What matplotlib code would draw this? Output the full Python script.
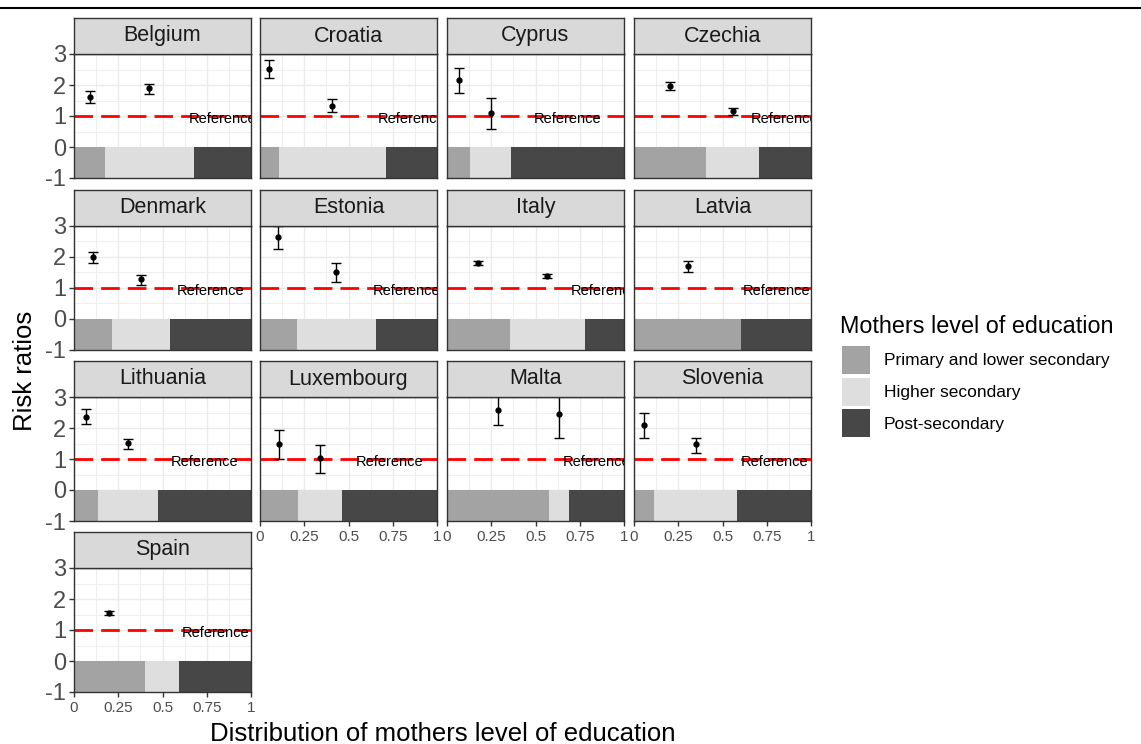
import numpy as np
import matplotlib
matplotlib.use("Agg")
import matplotlib.pyplot as plt
from matplotlib.lines import Line2D
from matplotlib.patches import Rectangle

plt.rcParams['font.family'] = ['Liberation Sans', 'DejaVu Sans']

# data
countries = ['Belgium', 'Croatia', 'Cyprus', 'Czechia',
             'Denmark', 'Estonia', 'Italy', 'Latvia',
             'Lithuania', 'Luxembourg', 'Malta', 'Slovenia',
             'Spain']
share_primary = [0.176, 0.107, 0.130, 0.407, 0.213, 0.208, 0.354, 0.607, 0.138, 0.216, 0.576, 0.113, 0.400]
share_higher = [0.500, 0.605, 0.234, 0.299, 0.332, 0.445, 0.427, 0.000, 0.338, 0.247, 0.115, 0.471, 0.196]
share_post = [0.324, 0.288, 0.636, 0.294, 0.455, 0.347, 0.219, 0.393, 0.524, 0.537, 0.309, 0.416, 0.404]

rr_primary = [1.60, 2.53, 2.16, 1.98, 1.99, 2.64, 1.80, 1.70, 2.36, 1.48, 2.59, 2.10, 1.56]
lo_primary = [1.41, 2.24, 1.75, 1.84, 1.78, 2.23, 1.74, 1.50, 2.13, 1.01, 2.10, 1.67, 1.50]
hi_primary = [1.82, 2.81, 2.54, 2.10, 2.14, 2.97, 1.85, 1.86, 2.60, 1.94, 3.15, 2.47, 1.62]

rr_higher = [1.91, 1.33, 1.09, 1.16, 1.26, 1.49, 1.36, np.nan, 1.52, 1.03, 2.45, 1.48, np.nan]
lo_higher = [1.71, 1.14, 0.58, 1.04, 1.09, 1.19, 1.30, np.nan, 1.32, 0.56, 1.67, 1.19, np.nan]
hi_higher = [2.03, 1.54, 1.58, 1.26, 1.39, 1.78, 1.42, np.nan, 1.64, 1.45, 3.20, 1.67, np.nan]

levels = ['Primary and lower secondary', 'Higher secondary', 'Post-secondary']
level_colors = ['#A3A3A3', '#DEDEDE', '#474747']

W, H = 1141, 744
fig = plt.figure(figsize=(W / 100, H / 100), dpi=100)

def px(x0, y0, w, h):
    return [x0 / W, 1 - (y0 + h) / H, w / W, h / H]

col_left = [74, 260, 447, 634]
row_top = [54, 225.5, 397, 568]
pw, ph, sh = 177, 124, 36
tick_col = '#4D4D4D'

for i, c in enumerate(countries):
    r, k = divmod(i, 4)
    ax = fig.add_axes(px(col_left[k], row_top[r], pw, ph))
    ax.set_xlim(0, 1)
    ax.set_ylim(-1, 3)
    ax.set_axisbelow(True)
    ax.set_xticks([0, 0.25, 0.5, 0.75, 1])
    ax.set_xticks([0.125, 0.375, 0.625, 0.875], minor=True)
    ax.set_yticks([-1, 0, 1, 2, 3])
    ax.set_yticks([-0.5, 0.5, 1.5, 2.5], minor=True)
    ax.grid(which='major', color='#EBEBEB', lw=1.0)
    ax.grid(which='minor', color='#EBEBEB', lw=0.6)
    for s in ax.spines.values():
        s.set_color('#333333')
        s.set_linewidth(1.0)

    # stacked distribution bar
    shares = [share_primary[i], share_higher[i], share_post[i]]
    left = np.cumsum([0] + shares[:-1])
    ax.barh(-0.5, shares, left=left, height=1, color=level_colors, zorder=1)

    mids = left + np.array(shares) / 2
    ax.axhline(1, color='red', lw=2.0, ls=(0, (6.7, 2.9)), zorder=2)
    ax.text(mids[2], 0.9, 'Reference', ha='center', va='center', fontsize=10.5,
            color='black', clip_on=True, zorder=3)

    rr = np.array([rr_primary[i], rr_higher[i]])
    lo = np.array([lo_primary[i], lo_higher[i]])
    hi = np.array([hi_primary[i], hi_higher[i]])
    ok = ~np.isnan(rr)
    ax.errorbar(mids[:2][ok], rr[ok], yerr=[rr[ok] - lo[ok], hi[ok] - rr[ok]],
                fmt='o', color='black', ms=3.5, elinewidth=1, capsize=3.5,
                capthick=1, zorder=4)

    ax.tick_params(which='major', length=3.5, width=1, color='#333333')
    ax.tick_params(which='minor', length=0)
    if k == 0:
        ax.set_yticklabels(['-1', '0', '1', '2', '3'], fontsize=17, color=tick_col)
        ax.tick_params(axis='y', pad=2)
    else:
        ax.tick_params(axis='y', which='major', left=False, labelleft=False)
    if i + 4 >= len(countries):
        ax.set_xticklabels(['0', '0.25', '0.5', '0.75', '1'], fontsize=11,
                           color=tick_col)
        ax.tick_params(axis='x', pad=3)
    else:
        ax.tick_params(axis='x', which='major', bottom=False, labelbottom=False)

    # facet strip
    sax = fig.add_axes(px(col_left[k], row_top[r] - sh, pw, sh))
    sax.set_facecolor('#D9D9D9')
    sax.set_xticks([])
    sax.set_yticks([])
    for s in sax.spines.values():
        s.set_color('#333333')
        s.set_linewidth(1.0)
    sax.text(0.5, 0.5, c, ha='center', va='center', fontsize=15.5,
             color='#1A1A1A', transform=sax.transAxes)

fig.text(443 / W, 1 - 734 / H, 'Distribution of mothers level of education',
         ha='center', va='center', fontsize=18.5)
fig.text(25 / W, 1 - 371 / H, 'Risk ratios', ha='center', va='center',
         rotation=90, fontsize=18.5)

# legend, drawn by hand in figure pixels
fig.text(840 / W, 1 - 333 / H, 'Mothers level of education', ha='left',
         va='baseline', fontsize=16.8)
for j, (lab, col) in enumerate(zip(levels, level_colors)):
    top = 346 + j * 31.5
    fig.add_artist(Rectangle((842 / W, 1 - (top + 28) / H), 28 / W, 28 / H,
                             facecolor=col, edgecolor='none',
                             transform=fig.transFigure))
    fig.text(884 / W, 1 - (top + 15) / H, lab, ha='left', va='center',
             fontsize=12.5)

fig.add_artist(Line2D([0, 1], [1 - 8 / H] * 2, color='black', lw=1.5))

fig.savefig('out.png', dpi=100)
